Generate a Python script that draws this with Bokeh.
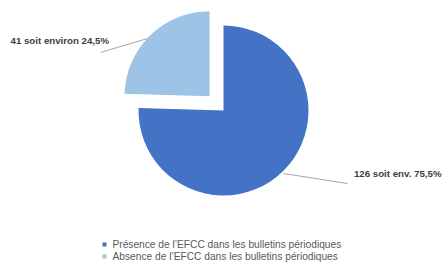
import math
from bokeh.plotting import figure
from bokeh.models import Range1d, ColumnDataSource
from bokeh.core.properties import value
from bokeh.embed import file_html
from bokeh.resources import INLINE

# ---- data ----
categories = ["Présence de l’EFCC dans les bulletins périodiques",
              "Absence de l’EFCC dans les bulletins périodiques"]
values = [126, 41]
data_labels = ["126 soit env. 75,5%", "41 soit environ 24,5%"]
colors = ["#4472C4", "#9DC3E6"]

W, H = 444, 265
p = figure(width=W, height=H, x_range=Range1d(0, W), y_range=Range1d(0, H),
           output_backend="svg", toolbar_location=None,
           x_axis_location=None, y_axis_location=None, min_border=0)
p.grid.visible = False
p.outline_line_color = None

cx, cy, r = 223, 155, 85
explode = [0, 20]
total = sum(values)
cum = 0
xs, ys, starts, ends = [], [], [], []
for v, e in zip(values, explode):
    a0 = 90 - cum / total * 360
    cum += v
    a1 = 90 - cum / total * 360
    mid = math.radians((a0 + a1) / 2)
    xs.append(cx + e * math.cos(mid))
    ys.append(cy + e * math.sin(mid))
    starts.append(math.radians(a1))
    ends.append(math.radians(a0))

src = ColumnDataSource(dict(x=xs, y=ys, start=starts, end=ends, color=colors))
p.wedge(x="x", y="y", radius=r, radius_units="screen", start_angle="start", end_angle="end",
        direction="anticlock", fill_color="color", line_color=None, source=src)

# leader lines
p.line([283, 347], [92, 82], line_color="#A6A6A6", line_width=1)
p.line([100, 147], [213, 227], line_color="#A6A6A6", line_width=1)

# data labels
p.text(x=[441], y=[92], text=[data_labels[0]], text_font=value("Liberation Sans"),
       text_font_size="9.7px", text_font_style="bold", text_color="#404040",
       text_baseline="middle", text_align="right")
p.text(x=[10], y=[225], text=[data_labels[1]], text_font=value("Liberation Sans"),
       text_font_size="9.7px", text_font_style="bold", text_color="#404040",
       text_baseline="middle", text_align="left")

# legend
ly = [21, 9]
p.scatter(x=[104, 104], y=ly, marker="square", size=4, fill_color=colors, line_color=None)
p.text(x=[112, 112], y=ly, text=categories, text_font=value("Liberation Sans"),
       text_font_size="10.2px", text_color="#595959",
       text_baseline="middle", text_align="left")

open("out.html", "w").write(file_html(p, INLINE))
